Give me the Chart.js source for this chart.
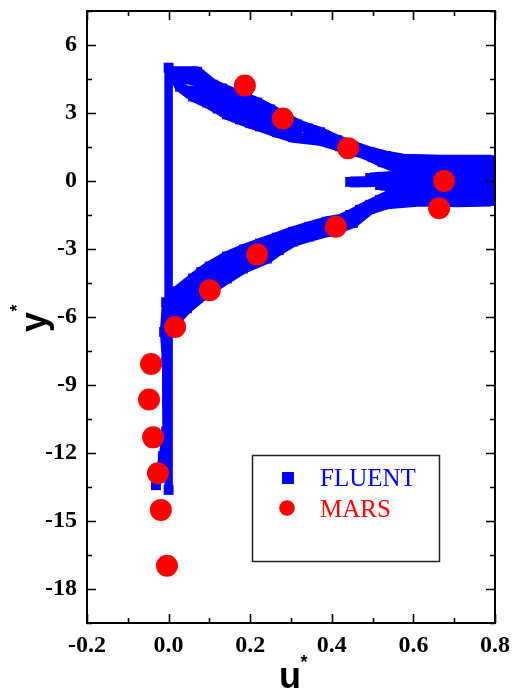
<!DOCTYPE html>
<html>
<head>
<meta charset="utf-8">
<script src="https://cdn.jsdelivr.net/npm/chart.js@4/dist/chart.umd.min.js"></script>
<style>
  html, body { margin: 0; padding: 0; background: #fff; }
  #wrap { width: 515px; height: 697px; position: relative; }
</style>
</head>
<body>
<div id="wrap"><canvas id="c"></canvas></div>
<script>
// ---- Data (u*, y*) ----
const fluentUpperTop = [[0.008,4.82],[0.070,4.82],[0.109,4.25],[0.131,4.08],[0.168,3.81],[0.192,3.64],[0.217,3.46],[0.249,3.16],[0.280,2.85],[0.315,2.50],[0.342,2.32],[0.371,2.15],[0.413,1.80],[0.452,1.53],[0.494,1.27],[0.533,1.10],[0.575,0.96],[0.673,0.92],[0.790,0.92]];
const fluentUpperMid1 = [[0.028,4.56],[0.070,4.43],[0.109,3.95],[0.168,3.46],[0.217,3.11],[0.266,2.72],[0.315,2.32]];
const fluentUpperMid2 = [[0.060,3.99],[0.109,3.64],[0.168,3.11],[0.217,2.81],[0.266,2.46],[0.315,2.10]];
const fluentUpperBottom = [[0.008,4.73],[0.016,4.60],[0.028,4.16],[0.060,3.73],[0.094,3.46],[0.120,3.20],[0.143,2.94],[0.175,2.72],[0.200,2.55],[0.224,2.41],[0.266,2.15],[0.305,1.93],[0.371,1.80],[0.420,1.53],[0.469,1.27],[0.500,1.05],[0.525,0.83],[0.567,0.53],[0.673,0.53],[0.790,0.53]];
const fluentProngMid = [[0.445,-0.04],[0.510,-0.02],[0.567,0.0],[0.790,0.0]];
const fluentProngUpper = [[0.494,0.13],[0.567,0.22],[0.665,0.31],[0.790,0.31]];
const fluentProngLower = [[0.518,-0.18],[0.592,-0.26],[0.714,-0.31],[0.790,-0.31]];
const fluentLowerTop = [[0.790,-0.61],[0.616,-0.57],[0.543,-0.61],[0.518,-0.83],[0.469,-1.27],[0.445,-1.50],[0.420,-1.71],[0.388,-1.80],[0.345,-2.02],[0.305,-2.24],[0.265,-2.50],[0.224,-2.76],[0.185,-3.02],[0.143,-3.33],[0.101,-3.77],[0.080,-4.02],[0.060,-4.30],[0.021,-4.87],[0.008,-5.09]];
const fluentLowerMid1 = [[0.616,-0.75],[0.494,-1.05],[0.452,-1.53],[0.388,-2.02],[0.305,-2.46],[0.241,-2.94],[0.182,-3.33],[0.143,-3.64],[0.084,-4.38],[0.045,-4.87],[0.008,-5.48]];
const fluentLowerMid2 = [[0.241,-3.16],[0.182,-3.59],[0.143,-3.99],[0.084,-4.69],[0.045,-5.22],[0.008,-5.92]];
const fluentLowerBottom = [[0.790,-0.88],[0.707,-0.92],[0.616,-0.88],[0.535,-1.01],[0.494,-1.23],[0.452,-1.84],[0.420,-2.05],[0.388,-2.24],[0.345,-2.45],[0.305,-2.67],[0.270,-3.05],[0.241,-3.42],[0.182,-3.86],[0.143,-4.30],[0.110,-4.70],[0.084,-5.04],[0.045,-5.61],[0.008,-6.36]];
const fluentWallStraight = [[0.0,5.0],[0.0,-13.63]];
const fluentWallCurved = [[-0.006,-5.35],[-0.011,-6.66],[-0.006,-7.98],[-0.004,-9.73],[-0.006,-11.05],[-0.014,-12.14],[-0.024,-13.02],[-0.031,-13.42]];

const marsU = [0.187, 0.280, 0.440, 0.675, 0.663, 0.410, 0.217, 0.101, 0.016, -0.043, -0.048, -0.038, -0.026, -0.019, -0.004];
const marsY = [4.21, 2.76, 1.45, 0.00, -1.20, -2.02, -3.24, -4.82, -6.44, -8.07, -9.64, -11.31, -12.89, -14.51, -16.97];

const xTickMin = -0.2, xTickMax = 0.8, xStep = 0.1;
const yTickMin = -19.5, yTickMax = 7.5, yStep = 1.5;

const seriesNames = ['FLUENT', 'MARS'];
const BLUE = '#0000FF', RED = '#FF0000';

const fluentRows = [fluentWallStraight, fluentWallCurved, fluentUpperTop, fluentUpperMid1, fluentUpperMid2, fluentUpperBottom,
  fluentProngMid, fluentProngUpper, fluentProngLower, fluentLowerTop, fluentLowerMid1, fluentLowerMid2, fluentLowerBottom];

const datasets = [];
datasets.push({
  label: seriesNames[1],
  data: marsU.map((u, i) => ({x: u, y: marsY[i]})),
  showLine: false,
  pointStyle: 'circle',
  pointRadius: 11,
  pointBackgroundColor: RED,
  pointBorderWidth: 0,
  order: 0
});
fluentRows.forEach((row, i) => {
  datasets.push({
    label: i === 0 ? seriesNames[0] : '',
    data: row.map(([x, y]) => ({x, y})),
    showLine: true,
    borderColor: BLUE,
    borderWidth: i < 2 ? 8.5 : 11,
    borderJoinStyle: 'bevel',
    tension: 0,
    pointStyle: 'rect',
    pointRadius: 7,
    pointBackgroundColor: BLUE,
    pointBorderWidth: 0,
    order: 1
  });
});

const frameTicks = {
  id: 'frameTicks',
  afterDraw(chart) {
    const ctx = chart.ctx;
    const a = chart.chartArea;
    const xs = chart.scales.x, ys = chart.scales.y;
    ctx.save();
    ctx.strokeStyle = '#000';
    ctx.lineWidth = 1.6;
    ctx.beginPath();
    xs.ticks.forEach(t => {
      const p = Math.round(xs.getPixelForValue(t.value)) + 0.5;
      const len = t.label ? 9 : 5;
      ctx.moveTo(p, a.bottom); ctx.lineTo(p, a.bottom - len);
      ctx.moveTo(p, a.top); ctx.lineTo(p, a.top + len);
    });
    ys.ticks.forEach(t => {
      const p = Math.round(ys.getPixelForValue(t.value)) + 0.5;
      const len = t.label ? 9 : 5;
      ctx.moveTo(a.left, p); ctx.lineTo(a.left + len, p);
      ctx.moveTo(a.right, p); ctx.lineTo(a.right - len, p);
    });
    ctx.stroke();
    ctx.lineWidth = 2;
    ctx.strokeRect(a.left, a.top, a.right - a.left, a.bottom - a.top);

    // axis titles
    ctx.fillStyle = '#000';
    ctx.font = 'bold 36px "Liberation Sans", Arial, sans-serif';
    ctx.textAlign = 'left';
    ctx.textBaseline = 'alphabetic';
    ctx.fillText('u', 279, 688);
    ctx.font = 'bold 18px "Liberation Sans", Arial, sans-serif';
    ctx.textAlign = 'center';
    ctx.fillText('*', 304, 668);

    ctx.save();
    ctx.translate(46, 332);
    ctx.rotate(-Math.PI / 2);
    ctx.font = 'bold 36px "Liberation Sans", Arial, sans-serif';
    ctx.textAlign = 'left';
    ctx.fillText('y', 0, 0);
    ctx.font = 'bold 18px "Liberation Sans", Arial, sans-serif';
    ctx.textAlign = 'center';
    ctx.fillText('*', 24, -23);
    ctx.restore();

    // legend
    ctx.lineWidth = 1.5;
    ctx.strokeStyle = '#222';
    ctx.strokeRect(252.5, 455.5, 187, 106);
    ctx.fillStyle = BLUE;
    ctx.fillRect(282, 472, 12, 12);
    ctx.fillStyle = RED;
    ctx.beginPath();
    ctx.arc(287, 508, 7.8, 0, Math.PI * 2);
    ctx.fill();
    ctx.font = '25px "Liberation Serif", "Times New Roman", serif';
    ctx.textAlign = 'left';
    ctx.textBaseline = 'alphabetic';
    ctx.fillStyle = BLUE;
    ctx.fillText(seriesNames[0], 320, 486);
    ctx.fillStyle = RED;
    ctx.fillText(seriesNames[1], 320, 517);
    ctx.restore();
  }
};

const tickFont = {family: '"Liberation Serif", "Times New Roman", serif', size: 24, weight: 'bold'};

new Chart(document.getElementById('c'), {
  type: 'scatter',
  data: { datasets },
  options: {
    responsive: true,
    maintainAspectRatio: false,
    animation: false,
    events: [],
    layout: { padding: { left: 0, top: 7, right: 20, bottom: 0 } },
    plugins: { legend: { display: false }, tooltip: { enabled: false } },
    scales: {
      x: {
        type: 'linear',
        min: xTickMin, max: xTickMax,
        grid: { display: false, drawTicks: false },
        border: { display: false },
        ticks: {
          stepSize: xStep,
          autoSkip: false,
          maxRotation: 0,
          padding: 8,
          color: '#000',
          font: tickFont,
          callback: (v) => {
            const k = Math.round(v * 10);
            return (k % 2 === 0) ? (k / 10).toFixed(1) : '';
          }
        },
        afterFit: (s) => { s.height = 74; s.paddingLeft = 0; s.paddingRight = 0; }
      },
      y: {
        type: 'linear',
        min: yTickMin, max: yTickMax,
        grid: { display: false, drawTicks: false },
        border: { display: false },
        ticks: {
          stepSize: yStep,
          autoSkip: false,
          padding: 10,
          color: '#000',
          font: tickFont,
          callback: (v) => {
            const k = Math.round(v / 1.5);
            return (k % 2 === 0) ? String(Math.round(v)) : '';
          }
        },
        afterFit: (s) => { s.width = 87; s.paddingTop = 0; s.paddingBottom = 0; }
      }
    }
  },
  plugins: [frameTicks]
});
</script>
</body>
</html>
